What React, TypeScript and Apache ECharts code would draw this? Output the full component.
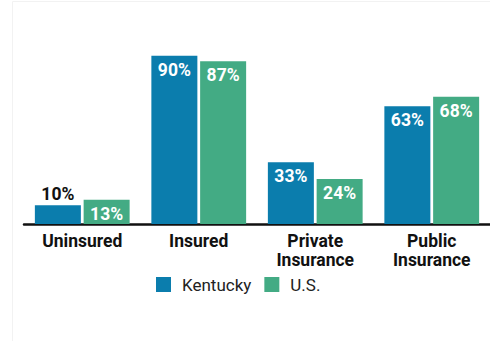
import React, { useEffect, useRef } from "react";
import * as echarts from "echarts";

const categories = ["Uninsured", "Insured", "Private\nInsurance", "Public\nInsurance"];
const kentucky = [10, 90, 33, 63];
const us = [13, 87, 24, 68];
const seriesNames = ["Kentucky", "U.S."];

const FONT = "Roboto, 'DejaVu Sans Condensed', sans-serif";

export default function App() {
  const ref = useRef<HTMLDivElement>(null);
  useEffect(() => {
    if (!ref.current) return;
    const chart = echarts.init(ref.current, undefined, { renderer: "svg" });
    const insideLabel = {
      show: true,
      position: "insideTop",
      distance: 5,
      color: "#ffffff",
      fontFamily: FONT,
      fontWeight: "bold",
      fontSize: 17.5,
      formatter: "{c}%",
    };
    const kyData = kentucky.map((v) =>
      v < 15
        ? { value: v, label: { position: "top", distance: 2, color: "#111111" } }
        : { value: v }
    );
    chart.setOption({
      animation: false,
      backgroundColor: "#ffffff",
      graphic: [
        {
          type: "rect",
          shape: { x: 12.5, y: 1.5, width: 500, height: 400 },
          style: { fill: "none", stroke: "#f2f2f2", lineWidth: 1 },
          silent: true,
        },
      ],
      grid: { left: 24, right: -2, top: 37, bottom: 117, containLabel: false },
      legend: {
        left: 156,
        top: 276,
        padding: 0,
        itemWidth: 15,
        itemHeight: 15,
        itemGap: 13,
        icon: "rect",
        textStyle: { fontFamily: FONT, fontSize: 17, color: "#222222", padding: [0, 0, 0, 6] },
        data: seriesNames,
      },
      xAxis: {
        type: "category",
        data: categories,
        axisLine: { lineStyle: { color: "#111111", width: 2.5 } },
        axisTick: { show: false },
        axisLabel: {
          fontFamily: FONT,
          fontWeight: "bold",
          fontSize: 17.5,
          color: "#111111",
          margin: 7,
          lineHeight: 19,
        },
      },
      yAxis: { type: "value", min: 0, max: 100, show: false, splitLine: { show: false } },
      series: [
        {
          name: seriesNames[0],
          type: "bar",
          data: kyData,
          barWidth: 46,
          barGap: "6%",
          itemStyle: { color: "#0b7dad" },
          label: insideLabel,
        },
        {
          name: seriesNames[1],
          type: "bar",
          data: us,
          barWidth: 46,
          itemStyle: { color: "#43ab84" },
          label: insideLabel,
        },
      ],
    });
    return () => chart.dispose();
  }, []);
  return (
    <div
      ref={ref}
      style={{ position: "fixed", left: 0, top: 0, width: 490, height: 341 }}
    />
  );
}
